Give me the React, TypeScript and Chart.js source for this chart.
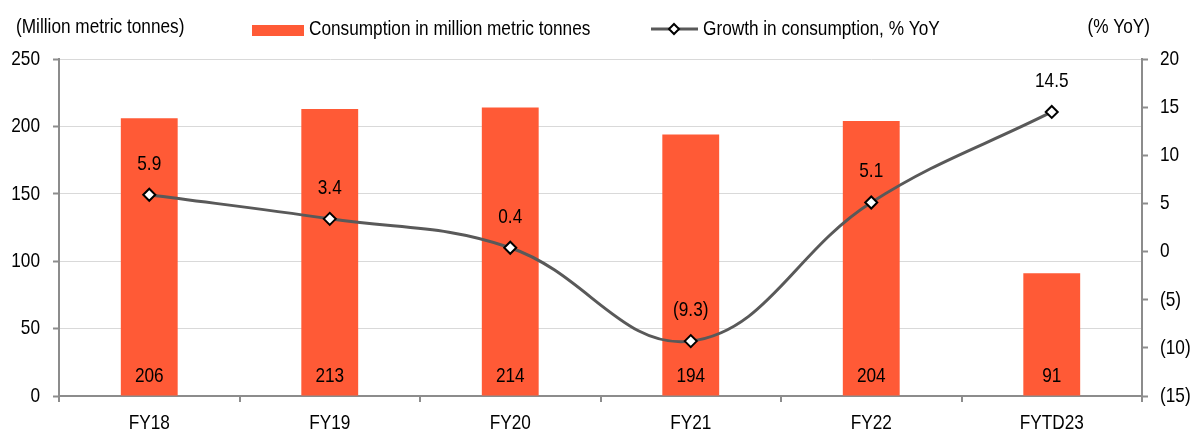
import React, { useEffect, useRef } from "react";
import { Chart, registerables } from "chart.js";

Chart.register(...registerables);

const categories = ["FY18", "FY19", "FY20", "FY21", "FY22", "FYTD23"];
const consumption = [206, 213, 214, 194, 204, 91];
const growth = [5.9, 3.4, 0.4, -9.3, 5.1, 14.5];
const leftTicks = [0, 50, 100, 150, 200, 250];
const rightTicks = [-15, -10, -5, 0, 5, 10, 15, 20];

const FONT = "'Liberation Sans', Arial, sans-serif";
const FS = 21;
const SX = 0.82;
const BAR_COLOR = "#FF5A36";
const LINE_COLOR = "#595959";
const AXIS_COLOR = "#8c8c8c";

const fmtPct = (v: number) => (v < 0 ? `(${Math.abs(v).toFixed(1)})` : v.toFixed(1));
const fmtAxis = (v: number) => (v < 0 ? `(${Math.abs(v)})` : `${v}`);

function txt(ctx: CanvasRenderingContext2D, s: string, x: number, y: number, align: CanvasTextAlign) {
  ctx.save();
  ctx.translate(x, y);
  ctx.scale(SX, 1);
  ctx.font = `${FS}px ${FONT}`;
  ctx.fillStyle = "#000";
  ctx.textAlign = align;
  ctx.textBaseline = "middle";
  ctx.fillText(s, 0, 0);
  ctx.restore();
}

const overlay = {
  id: "overlay",
  afterDatasetsDraw(chart: any) {
    const ctx = chart.ctx;
    const area = chart.chartArea;
    const barMeta = chart.getDatasetMeta(0);
    barMeta.data.forEach((el: any, i: number) => {
      txt(ctx, String(consumption[i]), el.x, area.bottom - 20, "center");
    });
    const lineMeta = chart.getDatasetMeta(1);
    lineMeta.data.forEach((el: any, i: number) => {
      txt(ctx, fmtPct(growth[i]), el.x, el.y - 31, "center");
    });
  },
  afterDraw(chart: any) {
    const ctx = chart.ctx;
    const sx = chart.scales.x;
    const sy = chart.scales.y;
    const sy1 = chart.scales.y1;
    categories.forEach((c, i) => txt(ctx, c, sx.getPixelForValue(i), 423, "center"));
    leftTicks.forEach((v) => txt(ctx, String(v), 40, sy.getPixelForValue(v), "right"));
    rightTicks.forEach((v) => txt(ctx, fmtAxis(v), 1160, sy1.getPixelForValue(v), "left"));
    txt(ctx, "(Million metric tonnes)", 16, 27, "left");
    txt(ctx, "(% YoY)", 1150, 27, "right");
    ctx.save();
    // legend 1
    ctx.fillStyle = BAR_COLOR;
    ctx.fillRect(252, 25, 52, 11);
    // legend 2
    ctx.strokeStyle = LINE_COLOR;
    ctx.lineWidth = 3;
    ctx.beginPath();
    ctx.moveTo(651, 29);
    ctx.lineTo(698, 29);
    ctx.stroke();
    ctx.fillStyle = "#fff";
    ctx.strokeStyle = "#000";
    ctx.lineWidth = 2;
    ctx.beginPath();
    const cx = 674, cy = 29, r = 5;
    ctx.moveTo(cx, cy - r);
    ctx.lineTo(cx + r, cy);
    ctx.lineTo(cx, cy + r);
    ctx.lineTo(cx - r, cy);
    ctx.closePath();
    ctx.fill();
    ctx.stroke();
    ctx.restore();
    txt(ctx, "Consumption in million metric tonnes", 309, 29, "left");
    txt(ctx, "Growth in consumption, % YoY", 703, 29, "left");
  },
};

export default function App() {
  const ref = useRef<HTMLCanvasElement>(null);
  useEffect(() => {
    document.body.style.margin = "0";
    const chart = new Chart(ref.current!, {
      type: "bar",
      data: {
        labels: categories,
        datasets: [
          {
            type: "bar",
            label: "Consumption in million metric tonnes",
            data: consumption,
            backgroundColor: BAR_COLOR,
            borderWidth: 0,
            yAxisID: "y",
            barPercentage: 0.315,
            categoryPercentage: 1,
            order: 2,
          },
          {
            type: "line",
            label: "Growth in consumption, % YoY",
            data: growth,
            borderColor: LINE_COLOR,
            borderWidth: 3,
            tension: 0.4,
            pointStyle: "rectRot",
            pointRadius: 6,
            pointBackgroundColor: "#fff",
            pointBorderColor: "#000",
            pointBorderWidth: 2,
            yAxisID: "y1",
            order: 1,
          },
        ],
      },
      options: {
        responsive: false,
        animation: false,
        layout: { padding: { top: 59, left: 0, right: 0, bottom: 0 } },
        plugins: { legend: { display: false }, tooltip: { enabled: false } },
        scales: {
          x: {
            afterFit: (s: any) => { s.height = 36; },
            grid: {
              drawOnChartArea: false,
              offset: true,
              tickLength: 6,
              tickColor: AXIS_COLOR,
              lineWidth: 2,
            },
            border: { display: true, color: AXIS_COLOR, width: 2 },
            ticks: { display: false },
          },
          y: {
            position: "left",
            min: 0,
            max: 250,
            afterFit: (s: any) => { s.width = 59; },
            afterBuildTicks: (s: any) => { s.ticks = leftTicks.map((v) => ({ value: v })); },
            grid: {
              color: "#d9d9d9",
              borderDash: [2, 2],
              tickLength: 6,
              tickColor: AXIS_COLOR,
              tickBorderDash: [],
              tickWidth: 2,
            },
            border: { display: true, color: AXIS_COLOR, width: 2 },
            ticks: { display: false },
          },
          y1: {
            position: "right",
            min: -15,
            max: 20,
            afterFit: (s: any) => { s.width = 55; },
            afterBuildTicks: (s: any) => { s.ticks = rightTicks.map((v) => ({ value: v })); },
            grid: {
              drawOnChartArea: false,
              tickLength: 6,
              tickColor: AXIS_COLOR,
              tickWidth: 2,
            },
            border: { display: true, color: AXIS_COLOR, width: 2 },
            ticks: { display: false },
          },
        },
      },
      plugins: [overlay],
    });
    return () => chart.destroy();
  }, []);
  return <canvas ref={ref} width={1197} height={432} />;
}
